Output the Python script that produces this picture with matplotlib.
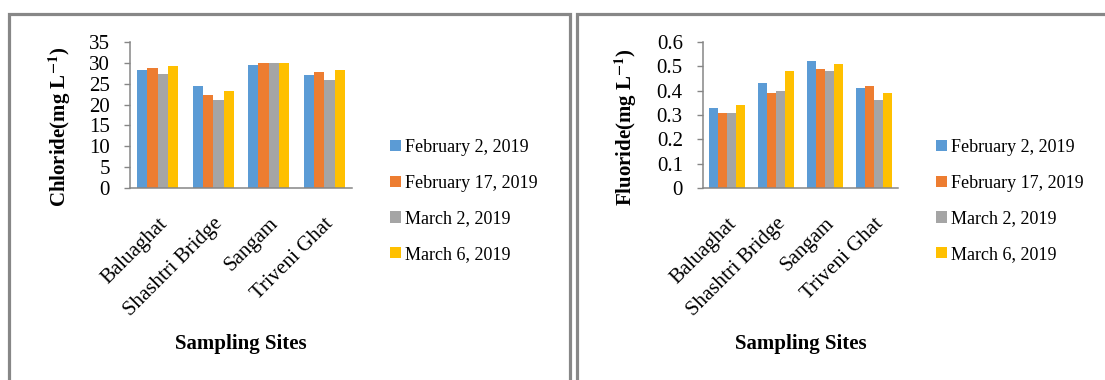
import numpy as np
import matplotlib
matplotlib.use("Agg")
import matplotlib.pyplot as plt
from matplotlib.patches import Rectangle, Patch

plt.rcParams['font.family'] = ['Liberation Serif', 'DejaVu Serif']
plt.rcParams['mathtext.fontset'] = 'stix'

sites = ["Baluaghat", "Shashtri Bridge", "Sangam", "Triveni Ghat"]
dates = ["February 2, 2019", "February 17, 2019", "March 2, 2019", "March 6, 2019"]
colors = ["#5B9BD5", "#ED7D31", "#A5A5A5", "#FFC000"]

# chloride (mg/L) per date, one value per site
chloride_feb2 = [28.4, 24.5, 29.5, 27.1]
chloride_feb17 = [28.7, 22.2, 29.9, 27.7]
chloride_mar2 = [27.3, 21.1, 30.0, 26.0]
chloride_mar6 = [29.3, 23.3, 30.0, 28.2]

# fluoride (mg/L) per date, one value per site
fluoride_feb2 = [0.33, 0.43, 0.52, 0.41]
fluoride_feb17 = [0.31, 0.39, 0.49, 0.42]
fluoride_mar2 = [0.31, 0.40, 0.48, 0.36]
fluoride_mar6 = [0.34, 0.48, 0.51, 0.39]

chloride = [chloride_feb2, chloride_feb17, chloride_mar2, chloride_mar6]
fluoride = [fluoride_feb2, fluoride_feb17, fluoride_mar2, fluoride_mar6]

W, H = 1105, 380
fig = plt.figure(figsize=(W / 100, H / 100), dpi=100)

# panel frames
for x0, x1 in [(9, 570), (577, 1110)]:
    fig.patches.append(Rectangle((x0 / W, 0 - 0.05), (x1 - x0) / W, (H - 14) / H + 0.05,
                                 transform=fig.transFigure, fill=False,
                                 edgecolor="#878787", linewidth=2.3))

axis_gray = "#868686"


def bar_panel(ax, series, ymax, ystep, ylabel, ylab_x):
    x = np.arange(len(sites))
    width = 0.74 / len(series)
    for i, vals in enumerate(series):
        ax.bar(x - 0.37 + width * (i + 0.5), vals, width, color=colors[i], zorder=2)
    ax.set_xlim(-0.5, len(sites) - 0.5)
    ax.set_ylim(0, ymax)
    ax.set_yticks(np.arange(0, ymax + ystep / 2, ystep))
    for s in ["top", "right"]:
        ax.spines[s].set_visible(False)
    for s in ["left", "bottom"]:
        ax.spines[s].set_color(axis_gray)
        ax.spines[s].set_linewidth(1.1)
    ax.tick_params(axis="y", length=4.5, width=1.0, color=axis_gray, labelsize=15, pad=10)
    ax.tick_params(axis="x", length=0, labelsize=15, pad=19)
    ax.set_xticks(x)
    ax.set_xticklabels(sites, rotation=45, ha="right", va="top", rotation_mode="anchor")
    ax.set_ylabel(ylabel, fontsize=15, fontweight="bold")
    ax.yaxis.set_label_coords(ylab_x, 0.42)
    ax.set_xlabel("Sampling Sites", fontsize=15, fontweight="bold")
    ax.xaxis.set_label_coords(0.5, -1.0)


ax1 = fig.add_axes([130 / W, (H - 188) / H, 222 / W, 146 / H])
bar_panel(ax1, chloride, 35, 5, r"Chloride(mg L$^{\mathbf{-1}}$)", -0.255)
ax1.set_yticklabels([str(v) for v in range(0, 36, 5)])

ax2 = fig.add_axes([703 / W, (H - 188) / H, 195 / W, 146 / H])
bar_panel(ax2, fluoride, 0.6, 0.1, r"Fluoride(mg L$^{\mathbf{-1}}$)", -0.33)
ax2.set_yticklabels(["0", "0.1", "0.2", "0.3", "0.4", "0.5", "0.6"])

handles = [Patch(facecolor=c, edgecolor="none") for c in colors]
for lx in [390, 936]:
    fig.legend(handles, dates, loc="center left",
               bbox_to_anchor=(lx / W, (H - 201) / H), frameon=False,
               fontsize=13, handlelength=0.6, handleheight=0.6,
               handletextpad=0.25, labelspacing=1.03, borderpad=0, borderaxespad=0)

fig.savefig("out.png", dpi=100)
